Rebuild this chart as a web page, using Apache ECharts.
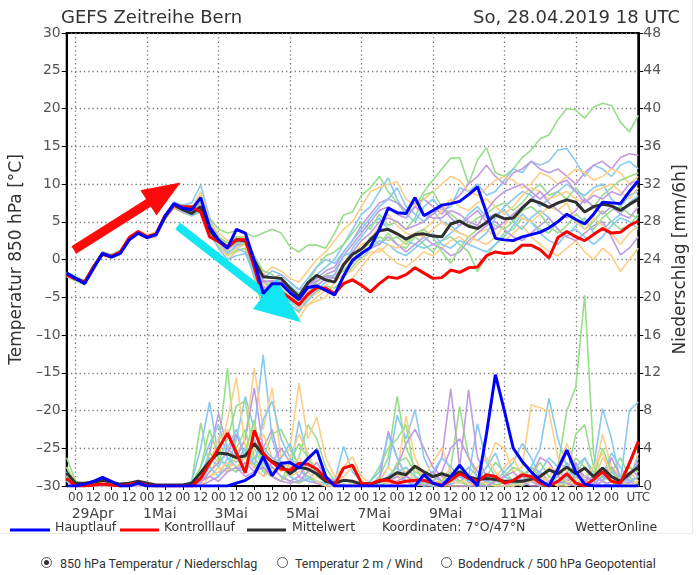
<!DOCTYPE html>
<html><head><meta charset="utf-8">
<script src="https://cdn.jsdelivr.net/npm/echarts/dist/echarts.min.js"></script>
<style>
html,body{margin:0;padding:0;background:#fff;width:697px;height:575px;overflow:hidden}
#wrap{position:absolute;left:0;top:0;width:692px;height:533px;border-right:1px solid #ececec;border-bottom:1px solid #ececec}
#chart{position:absolute;left:0;top:0;width:697px;height:540px}
#radios{position:absolute;left:0;top:553px;width:697px;height:22px;font-family:Roboto,"Noto Sans",sans-serif;font-size:12.5px;color:#333}
.it{position:absolute;top:3px;white-space:nowrap}
.rb{position:absolute;top:0;width:11px;height:11px;border:1px solid #555;border-radius:50%;box-sizing:border-box}
.rb.on::after{content:"";position:absolute;left:2px;top:2px;width:5px;height:5px;border-radius:50%;background:#333}
</style></head><body>
<div id="wrap"></div>
<div id="chart"></div>
<div id="radios">
 <div class="rb on" style="left:41px;top:4px"></div><div class="it" style="left:60px">850 hPa Temperatur / Niederschlag</div>
 <div class="rb" style="left:277px;top:4px"></div><div class="it" style="left:295px">Temperatur 2 m / Wind</div>
 <div class="rb" style="left:441px;top:4px"></div><div class="it" style="left:458px">Bodendruck / 500 hPa Geopotential</div>
</div>
<script>
// ---- time axis: GEFS run 28.04.2019 18 UTC, 6-hourly, 65 steps ----
const runStartUTC = Date.UTC(2019, 3, 28, 18);
const stepHours = 6;
const nSteps = 65;
const dateLabels = ['29Apr', '1Mai', '3Mai', '5Mai', '7Mai', '9Mai', '11Mai'];
const dateLabelIndex = [1, 9, 17, 25, 33, 41, 49];
const tempTicks = { min: -30, max: 30, interval: 5 };
const precTicks = { min: 0, max: 48, interval: 4 };

// ---- 850 hPa temperature [°C] ----
const hauptlaufT = [-1.8,-2.5,-3.2,-1.2,0.8, 0.3,0.8,2.6,3.5,2.9, 3.3,5.7,7.4,6.8,6.6, 8.2,4.3,2.6,1.5,4.0, 3.5,-0.2,-4.5,-3.2,-3.2, -4.4,-5.3,-3.7,-3.5,-4.1, -4.7,-2.2,-0.1,0.8,1.6, 4.0,6.8,6.2,6.1,8.2, 5.8,6.5,7.2,7.4,7.7, 8.6,9.6,6.2,2.8,2.6, 2.5,3.0,3.3,3.6,4.2, 5.0,6.0,5.3,4.7,6.0, 7.6,7.5,7.4,9.0,10.4];
const kontrollT = [-2.0,-2.6,-3.0,-1.0,0.7, 0.4,1.0,2.9,3.7,3.0, 3.4,5.8,7.2,7.0,7.0, 6.3,3.0,2.4,1.7,2.6, 2.6,-1.0,-5.1,-4.5,-4.3, -5.1,-6.0,-4.6,-3.7,-3.8, -4.5,-3.2,-2.7,-3.4,-4.3, -3.2,-2.3,-2.5,-2.0,-1.1, -1.8,-2.5,-2.4,-1.4,-1.7, -1.1,-1.0,0.5,1.0,0.8, 0.9,1.9,1.9,1.3,0.2, 2.9,3.7,3.0,2.5,3.3, 4.1,3.5,3.6,4.5,5.1];
const mittelT = [-2.0,-2.5,-3.0,-1.0,0.8, 0.4,0.9,2.7,3.5,3.0, 3.3,5.6,7.2,6.6,6.1, 7.0,3.9,2.4,1.6,2.6, 2.5,-0.1,-2.3,-2.4,-2.5, -3.8,-4.9,-3.1,-2.1,-2.7, -3.0,-0.7,0.7,1.4,2.6, 3.8,4.0,3.4,2.7,3.3, 3.4,3.1,3.0,4.7,5.1, 4.4,4.1,4.9,5.9,5.4, 5.5,6.8,7.9,7.5,6.9, 7.5,7.9,7.6,6.3,7.0, 7.3,7.1,6.5,7.3,8.0];
// ensemble members (temperature)
const tG1 = [-1.7,-2.2,-2.8,-0.8,1.0, 0.7,1.2,2.9,3.8,3.2, 3.6,5.8,7.0,6.2,5.8, 6.5,5.5,4.0,3.5,3.8, 3.5,3.0,3.5,4.0,3.5, 1.7,1.0,1.9,1.9,1.5, 3.5,5.9,6.3,8.5,9.5, 11.0,9.0,7.5,6.0,7.0, 9.0,10.5,12.0,13.4,13.5, 10.0,13.2,14.8,11.5,11.0, 12.0,13.5,14.5,16.0,16.5, 18.5,20.0,19.8,18.7,20.2, 20.7,20.4,18.2,16.9,19.1];
const tG2 = [-2.3,-2.8,-3.3,-1.2,0.6, 0.2,0.8,2.5,3.4,2.8, 3.1,5.4,7.0,6.4,6.3, 6.8,3.2,1.8,0.5,1.2, 1.5,-2.5,-6.5,-4.0,-5.5, -6.0,-7.0,-5.0,-4.2,-3.5, -3.8,-2.5,-1.0,0.5,3.0, 2.0,3.5,2.0,1.5,3.0, 2.0,1.0,2.5,3.0,2.0, 1.0,-1.6,0.5,2.0,3.5, 4.0,5.5,5.0,4.0,3.5, 5.0,6.0,5.5,4.0,5.0, 6.5,5.0,4.0,4.5,6.0];
const tG3 = [-1.9,-2.4,-2.9,-0.9,0.9, 0.5,1.0,2.8,3.6,3.1, 3.4,5.7,7.5,6.9,6.3, 7.4,4.5,3.0,2.2,3.0, 2.8,0.5,-1.5,-2.0,-3.0, -4.5,-5.5,-3.0,-1.0,0.5, 1.0,2.0,3.5,5.0,4.0, 6.0,4.5,5.0,4.0,5.5, 8.5,9.0,7.0,6.0,5.0, 4.5,5.5,6.0,7.0,7.5, 6.5,7.5,9.0,10.0,8.5, 9.0,8.0,9.5,8.0,7.0, 8.5,9.5,10.5,11.0,11.5];
const tG4 = [-2.1,-2.6,-3.1,-1.1,0.7, 0.3,0.9,2.6,3.4,2.9, 3.2,5.5,7.1,6.5,5.9, 6.6,4.0,2.8,1.9,2.2, 2.0,-1.0,-3.0,-3.5,-3.8, -5.0,-6.0,-4.5,-3.0,-2.0, -2.5,-1.5,0.0,1.5,2.0, 3.0,2.5,3.0,2.0,3.5, 4.0,3.0,1.0,-0.5,1.5, 3.0,4.0,5.0,4.5,4.0, 5.0,6.5,7.0,6.0,4.5, 3.5,4.5,6.0,5.0,4.0, 5.5,6.5,7.0,6.0,5.5];
const tB1 = [-1.8,-2.3,-2.9,-0.9,1.0, 0.6,1.1,2.9,3.7,3.2, 3.5,5.9,7.6,7.2,7.5, 9.9,5.5,3.0,0.5,2.0, 2.5,0.0,-4.0,-3.0,-2.5, -3.5,-4.5,-3.0,-2.0,-1.0, 0.0,2.0,4.0,6.0,7.0, 9.0,10.8,8.0,6.0,5.0, 7.0,8.0,6.5,7.0,9.5, 9.0,10.0,8.5,9.0,10.5, 12.0,11.5,13.0,12.5,13.0, 14.5,14.7,13.0,11.0,12.5, 12.0,11.0,12.5,13.0,12.0];
const tB2 = [-2.2,-2.7,-3.2,-1.1,0.6, 0.3,0.8,2.6,3.4,3.0, 3.2,5.5,7.0,6.3,6.0, 7.5,4.2,2.0,1.0,1.5, 1.0,-1.5,-4.5,-4.0,-4.5, -5.5,-6.5,-4.5,-3.5,-2.5, -3.0,-1.0,1.5,3.0,4.5, 5.5,4.0,3.5,2.5,2.0, 1.5,2.0,2.5,3.5,4.5, 6.0,7.0,5.5,6.0,6.5, 5.0,4.0,5.5,6.5,5.5, 4.0,3.0,4.5,5.5,3.5, 4.0,5.0,6.0,7.5,8.5];
const tB3 = [-2.0,-2.4,-2.9,-1.0,0.9, 0.5,1.0,2.8,3.6,3.1, 3.4,5.7,7.3,6.8,6.4, 8.0,4.8,2.5,0.8,1.8, 2.0,-0.5,-2.5,-1.5,-2.0, -3.0,-4.0,-2.5,-1.0,0.0, -0.5,1.0,2.5,4.0,5.5, 7.0,8.0,9.5,7.0,6.0, 5.0,6.5,5.0,4.5,3.5, 3.0,2.5,3.5,5.5,7.0, 8.0,9.0,8.5,7.0,8.0, 9.0,10.0,9.0,8.5,9.5, 10.0,8.0,7.0,8.5,9.0];
const tB4 = [-2.1,-2.6,-3.0,-1.0,0.7, 0.4,0.9,2.6,3.5,2.9, 3.3,5.5,7.0,6.4,5.8, 6.3,3.5,1.5,0.0,0.5, 0.8,-2.0,-5.0,-5.5,-5.0, -6.0,-6.8,-5.5,-4.0,-3.0, -2.0,0.5,1.0,0.0,1.5, 2.5,2.0,1.0,0.5,1.5, 2.5,3.5,2.0,1.5,2.5, 2.0,1.5,1.0,2.0,3.0, 4.5,6.0,5.0,3.5,2.5, 2.0,3.5,4.0,3.0,2.0, 3.0,4.5,5.5,5.0,4.0];
const tO1 = [-2.2,-2.7,-3.1,-1.2,0.5, 0.2,0.7,2.5,3.3,2.8, 3.0,5.3,6.8,6.2,6.2, 8.5,4.5,1.5,0.0,1.0, 1.5,-1.5,-5.5,-5.0,-6.0, -6.5,-7.8,-6.0,-5.0,-4.0, -4.5,-3.0,-2.5,-1.0,0.5, 1.5,0.5,-0.5,-1.0,0.0, 1.0,0.5,1.5,2.5,3.0, 2.0,3.5,4.0,3.0,2.5, 3.5,4.5,3.0,2.0,1.0, 0.5,1.5,2.5,1.0,0.0, 1.5,0.5,-1.6,0.0,1.5];
const tO2 = [-1.9,-2.4,-2.9,-0.9,0.9, 0.6,1.1,2.9,3.8,3.3, 3.6,5.8,7.4,7.0,6.8, 9.0,5.0,3.5,2.5,3.0, 3.0,0.5,-2.0,-1.0,-1.5, -2.5,-3.0,-1.5,0.0,1.0, 2.5,4.0,5.0,7.0,9.0, 9.5,10.0,10.3,8.0,7.0, 8.0,9.0,10.0,11.0,10.5, 9.0,8.5,9.5,10.5,11.0, 10.5,9.5,10.0,11.5,11.0, 10.0,11.0,12.0,11.5,10.5, 11.0,12.0,11.5,10.0,11.0];
const tO3 = [-2.0,-2.5,-3.0,-1.0,0.8, 0.4,0.9,2.7,3.5,3.0, 3.3,5.6,7.1,6.6,6.5, 8.2,4.2,2.5,1.2,2.2, 2.2,-0.8,-3.5,-3.0,-3.5, -4.5,-6.0,-5.0,-4.5,-3.5, -2.0,-1.0,0.5,2.0,2.5, 4.5,6.0,4.5,3.5,3.0, 4.0,5.0,6.5,8.0,7.0, 6.5,7.5,8.0,7.0,6.0, 7.0,8.5,9.5,9.0,8.0, 8.5,9.0,8.0,7.5,9.0, 9.5,10.0,9.0,8.0,9.5];
const tO4 = [-2.1,-2.6,-3.1,-1.1,0.7, 0.3,0.8,2.6,3.4,2.9, 3.2,5.5,7.0,6.5,6.1, 7.2,4.0,2.0,0.5,1.5, 2.0,-1.2,-4.0,-3.5,-4.5, -5.0,-6.5,-6.0,-5.5,-5.0, -3.0,-2.0,-1.5,0.0,1.0, 1.0,2.0,1.5,2.5,3.5, 3.0,4.0,5.0,4.0,3.5, 3.0,2.5,2.0,3.0,4.5, 6.0,5.5,5.0,6.0,7.0, 6.5,7.5,5.0,4.0,5.5, 4.5,3.5,2.0,3.5,4.5];
const tP1 = [-1.9,-2.4,-3.0,-0.9,0.9, 0.6,1.1,2.8,3.7,3.1, 3.5,5.8,7.3,6.8,6.3, 7.6,4.6,2.8,1.8,2.8, 2.6,0.2,-2.0,-2.5,-2.0, -3.0,-4.0,-3.5,-2.5,-1.5, -1.0,1.0,2.5,4.5,6.0, 7.5,8.0,7.5,6.5,7.5, 8.0,7.0,6.0,7.5,8.5, 10.0,11.0,12.5,11.0,10.0, 11.5,12.0,13.0,12.0,11.5, 12.0,11.0,10.0,11.5,12.5, 13.0,12.0,13.5,14.0,13.8];
const tP2 = [-2.2,-2.6,-3.1,-1.1,0.6, 0.3,0.8,2.6,3.4,2.9, 3.1,5.4,6.9,6.3,5.9, 6.8,3.8,2.2,1.4,2.0, 2.0,-1.0,-3.5,-4.5,-4.0, -5.0,-6.2,-5.0,-3.5,-2.5, -2.0,-1.5,-0.5,1.0,1.5, 2.0,3.0,2.0,1.0,2.0, 3.0,2.0,1.5,0.5,1.0, 2.5,3.5,4.5,5.0,4.0, 3.0,2.5,3.5,4.5,5.5, 4.0,3.0,2.5,3.5,4.5, 5.0,3.0,0.6,1.5,3.0];
const tP3 = [-2.0,-2.5,-2.9,-1.0,0.8, 0.5,1.0,2.7,3.5,3.0, 3.3,5.6,7.2,6.7,6.2, 7.3,4.4,2.6,1.5,2.5, 2.4,-0.3,-2.8,-3.0,-3.2, -4.2,-5.2,-4.0,-3.0,-2.0, -1.5,0.5,2.0,3.5,5.0, 6.5,7.0,6.0,5.5,7.0, 6.0,5.5,5.5,6.5,6.0, 5.0,4.5,6.5,8.0,9.0, 9.5,10.0,9.0,8.0,9.0, 10.0,10.5,9.0,7.5,8.5, 8.0,9.0,8.5,10.0,10.5];
const tP4 = [-2.1,-2.5,-3.0,-1.0,0.8, 0.4,0.9,2.7,3.5,3.0, 3.3,5.6,7.1,6.6,6.0, 7.0,3.6,2.2,1.3,2.4, 2.3,-0.5,-3.0,-2.8,-3.0, -4.0,-5.0,-3.8,-2.8,-2.2, -2.5,-0.5,1.0,2.5,3.5, 5.0,5.5,5.0,4.0,4.5, 5.0,6.0,7.0,5.5,4.5, 5.5,6.5,5.0,4.0,5.0, 6.0,7.0,8.0,9.0,7.5, 6.5,5.5,6.5,8.0,7.0, 6.0,7.0,6.0,5.5,7.0];

// ---- precipitation [mm/6h] ----
const hauptlaufP = [0,0,0.2,0.5,0.9, 0.5,0,0,0.3,0, 0,0,0,0,0, 0,0,0,0,0.3, 0.6,1.2,3.1,1.1,2.4, 2.5,1.9,2.9,3.8,1.0, 0,0,0,0,0, 0,0,0,0,0, 1.2,0.3,0,1.0,2.2, 1.0,0,5.5,11.8,8.0, 4.0,2.6,1.5,0.6,0, 1.8,3.8,1.5,0.2,0, 0,0,0,0,0];
const kontrollP = [0.8,0,0,0.1,0.2, 0.1,0,0.2,0.3,0.1, 0,0,0,0,0, 0.8,2.4,4.0,5.6,3.5, 1.4,5.9,3.5,2.5,1.8, 1.7,2.4,2.3,1.8,0.8, 0.1,1.9,2.2,0.3,0.2, 0.6,0.6,0.3,0.5,0.6, 0.6,0.3,0.1,0.6,1.3, 0.8,0.5,1.2,1.0,0.3, 0.6,1.2,1.0,0.3,0, 0.5,1.3,0.3,0,0.7, 1.5,0.5,0.3,2.4,4.7];
const mittelP = [1.4,0.3,0.3,0.4,0.6, 0.4,0.2,0.3,0.5,0.3, 0.1,0.1,0.1,0.1,0.3, 1.4,2.6,3.5,3.4,3.0, 3.2,4.5,3.3,2.6,2.2, 1.3,2.0,1.8,1.3,0.5, 0.3,0.6,0.5,0.2,0.2, 0.5,0.8,1.4,1.2,2.1, 1.5,1.0,1.3,1.0,1.5, 1.0,0.7,0.8,0.7,0.5, 0.5,0.5,0.7,1.0,1.7, 1.3,2.0,1.3,1.9,1.0, 1.9,1.0,0.5,1.3,2.0];
// ensemble members (precipitation)
const pG1 = [3.0,0.5,0.2,0.5,0.3, 0,0,0,0.2,0, 0,0,0,0,0.5, 6.7,2.0,4.0,12.5,3.0, 1.5,4.0,2.0,1.0,0.5, 1.5,3.0,6.5,5.0,2.0, 0.5,0,0.3,0,0, 1.0,3.0,9.5,4.0,2.0, 0.5,1.0,0.5,2.0,8.4, 3.0,1.0,0.5,0.2,0, 0.5,1.5,0.5,0,0.3, 2.0,8.0,10.5,20.2,3.3, 1.0,0.5,0,0.5,1.0];
const pG2 = [1.5,0.3,0,0,0, 0,0.2,0,0,0, 0,0,0,0,0, 1.0,3.5,2.5,5.0,8.5, 9.0,3.0,1.5,2.0,1.0, 0.5,0.3,0.8,0.5,0, 0,0.2,0,0,0.5, 2.0,4.0,5.0,6.5,1.0, 0,0.5,1.5,0.8,0.5, 0,0.3,1.0,2.5,1.5, 0.5,1.0,2.0,1.0,0.5, 0,1.0,5.5,6.5,2.0, 0.5,1.5,3.0,1.0,0];
const pG3 = [2.0,0,0,0.3,0, 0,0,0.3,0,0, 0,0,0,0,0, 0.5,1.0,2.0,1.5,4.0, 6.0,2.0,3.0,5.5,6.0, 4.0,2.0,1.0,0.5,0.2, 0,0,0,0.3,0, 0.5,1.0,1.5,0.5,0, 0.2,0,0.5,1.5,0.5, 0,0,0.3,0.5,1.0, 2.0,1.5,0.5,0,0, 0.5,0.5,3.0,2.0,1.0, 4.0,1.5,0.5,0,0.3];
const pG4 = [1.0,0.2,0,0,0, 0,0,0,0,0, 0,0,0,0,0.3, 2.0,6.0,3.0,2.0,1.5, 3.5,7.0,1.5,1.0,0.5, 2.5,4.5,3.0,1.0,0.5, 0.2,0,0,0,0, 0,0.5,2.5,3.0,1.5, 1.0,0.5,0,0.5,2.0, 1.0,0.5,0,0,0.5, 0.3,0,1.0,2.5,1.0, 0.5,0,1.0,3.0,1.5, 0.5,0,1.0,2.0,1.5];
const pB1 = [1.2,0,0,0.2,0, 0,0,0,0,0, 0,0,0,0,0.5, 4.0,8.9,3.0,2.0,5.0, 9.5,6.0,13.9,5.0,2.0, 1.5,6.9,3.0,1.5,0.5, 0.5,4.2,1.5,0.5,0, 0.5,2.0,7.5,5.0,8.1, 3.0,1.0,0.5,0.2,0.5, 1.0,6.6,2.5,1.0,0.5, 0.3,0.5,2.0,4.0,9.3, 5.0,2.0,1.0,0.5,2.0, 8.2,5.0,0.5,8.0,8.9];
const pB2 = [0.8,0.2,0,0,0, 0,0,0,0,0, 0,0,0,0,0, 2.0,4.5,6.5,3.0,2.5, 4.0,2.0,7.0,9.0,5.0, 3.0,2.0,1.0,0.5,0.3, 0,0,0,0,0.5, 1.5,5.4,3.0,1.0,0.5, 0,0,0.3,1.0,2.0, 0.5,0,0,0.5,1.5, 2.5,4.5,3.0,1.0,0.5, 1.0,2.5,0.5,0,0.5, 1.0,3.5,2.0,0.5,0];
const pB3 = [1.5,0,0,0,0, 0,0,0,0.2,0, 0,0,0,0,0, 1.5,3.0,2.0,4.0,6.0, 3.0,5.0,2.5,1.0,3.0, 4.5,2.0,0.5,0.5,0.2, 0,0,0,0,0, 0.5,1.0,2.0,0.5,0, 0.5,1.5,3.0,2.0,1.0, 0.5,0.5,2.0,3.5,1.0, 0.5,0,0.5,1.5,3.0, 2.0,0.5,0,1.0,0.5, 2.0,1.0,0,1.0,3.0];
const pB4 = [0.5,0,0,0,0, 0,0,0,0,0, 0,0,0,0,0, 0.5,2.0,1.0,3.0,2.0, 1.5,3.0,4.0,3.0,2.5, 1.0,0.5,0.8,1.5,0.5, 0.3,0,0,0,0, 0.3,1.0,1.5,2.0,1.0, 0.5,0,0,0.5,1.0, 2.0,1.0,0.5,0,0, 0,0.5,1.0,0.5,0, 0.5,1.0,2.0,3.0,1.0, 0.5,1.5,1.0,0.5,1.0];
const pO1 = [2.0,0.3,0,0,0.2, 0,0,0,0,0, 0,0,0,0,0, 1.0,2.5,5.0,6.0,3.5, 5.0,12.5,6.0,10.4,3.0, 4.0,10.9,5.0,7.3,3.0, 1.0,2.0,3.1,1.0,0.3, 0,0.5,1.5,7.4,3.0, 1.0,0.5,0.5,2.0,1.0, 0.5,1.0,2.0,4.6,4.0, 1.5,2.0,8.6,8.3,7.9, 3.0,1.5,0.5,2.0,1.0, 5.5,2.0,1.0,0.5,3.5];
const pO2 = [1.0,0,0,0.2,0, 0,0,0,0,0, 0,0,0,0,0.3, 0.5,1.5,3.0,7.0,11.5, 4.0,6.5,3.0,2.5,1.5, 3.0,5.5,3.5,1.5,0.5, 0.3,1.0,2.0,0.5,0, 0.5,0.3,1.0,2.0,0.5, 1.0,2.5,4.0,1.5,0.5, 0.3,0,0.5,1.0,2.0, 3.0,1.0,0.5,0.3,1.0, 2.0,4.5,2.0,1.0,0.5, 3.0,1.5,0.5,2.0,1.5];
const pO3 = [0.5,0,0,0,0, 0,0.2,0,0,0, 0,0,0,0,0, 0,1.0,2.0,1.5,3.0, 2.0,4.0,5.5,3.0,2.0, 1.0,1.5,2.0,1.0,0.5, 0,0,0.3,0,0, 0.5,2.0,1.0,0.5,1.0, 0.5,0,0,0.5,0.3, 1.0,2.0,3.0,1.5,0.5, 0,0.5,1.0,0.5,2.0, 1.5,0.5,0,0.5,1.0, 0.5,0,1.0,1.5,0.5];
const pO4 = [1.0,0,0,0,0, 0,0,0,0,0, 0,0,0,0,0, 0.5,1.0,1.5,2.5,2.0, 3.0,2.0,1.0,1.5,2.5, 2.0,3.0,1.5,0.5,0, 0,0,0,0,0.2, 0.5,0.3,0.5,1.5,2.0, 1.0,0.3,0,0,0, 0,0.5,0.3,0,0, 0,0.3,0.5,1.0,0.5, 0,0,0.3,1.0,2.0, 3.5,1.0,0.5,0,0.5];
const pP1 = [1.0,0,0,0,0, 0,0,0,0,0, 0,0,0,0,0, 1.0,3.5,7.7,4.0,3.0, 5.0,10.4,4.0,6.0,2.0, 1.5,2.0,1.0,0.5,0.2, 0,0,0,0,0, 0.5,5.8,3.0,1.0,0.5, 0.3,1.0,3.0,10.3,2.0, 10.2,3.0,1.0,0.5,0.3, 0.5,1.0,2.0,1.5,0.5, 0.3,0.5,1.0,0.5,0.2, 1.0,2.0,0.5,0.3,1.0];
const pP2 = [0.8,0,0,0,0, 0,0,0,0,0, 0,0,0,0,0, 0.3,1.5,2.5,3.5,5.5, 3.0,2.0,1.0,2.5,4.0, 2.5,1.0,0.5,0.3,0, 0,0,0,0,0, 0.3,1.0,2.0,4.5,6.0, 4.0,2.0,1.0,0.5,1.0, 0.5,0,0.5,1.0,0.5, 0,0.5,1.0,3.0,2.5, 1.0,0.5,2.5,0.5,0, 0.5,3.0,1.0,0.5,0];
const pP3 = [0.5,0,0,0,0, 0,0,0,0,0, 0,0,0,0,0, 0,0.5,1.0,2.0,1.5, 2.5,1.5,3.0,2.0,1.0, 0.5,1.0,2.5,1.5,0.5, 0,0,0,0,0, 0,0.5,1.0,0.5,0.3, 0,0.5,1.5,4.0,5.0, 3.0,1.5,0.5,0,0, 0.5,1.0,0.5,0,0.5, 1.5,3.5,2.0,1.0,0.5, 0,0.5,1.0,2.0,1.0];
const pP4 = [0.6,0,0,0,0, 0,0,0,0,0, 0,0,0,0,0, 0.5,1.0,0.5,1.5,2.0, 1.0,1.5,2.0,1.0,0.5, 0.3,0.5,1.5,2.5,1.0, 0.5,0,0,0,0, 0,0,0.5,1.0,0.5, 1.0,1.5,0.5,0,0, 0,0,0,0.5,1.0, 1.5,0.5,0,0,0.5, 0.5,0.3,0,0.5,1.0, 0.5,0,0.3,1.0,2.5];

// ---- annotation arrows, in data space [step index, °C] ----
const arrowRed = { from: [0.8, 1.26], to: [10.95, 8.85] };
const arrowCyan = { from: [12.43, 4.44], to: [24.2, -6.45] };

// ---- styling ----
const COL = { green: '#98de8a', blue: '#88c9ef', orange: '#fccf88', purple: '#c09be3',
  haupt: '#0000ff', kontroll: '#ff0000', mittel: '#303030' };
const FONT = '"DejaVu Sans", sans-serif';

const categories = Array.from({ length: nSteps }, (_, i) => {
  const d = new Date(runStartUTC + i * stepHours * 3600e3);
  return d.getUTCDate() + '.' + (d.getUTCMonth() + 1) + '. ' + String(d.getUTCHours()).padStart(2, '0');
});
const isMainTick = i => i % 2 === 1 && i <= 61;

const ensT = [[tG1, COL.green], [tB1, COL.blue], [tO1, COL.orange], [tP1, COL.purple],
  [tG2, COL.green], [tB2, COL.blue], [tO2, COL.orange], [tP2, COL.purple],
  [tG3, COL.green], [tB3, COL.blue], [tO3, COL.orange], [tP3, COL.purple],
  [tG4, COL.green], [tB4, COL.blue], [tO4, COL.orange], [tP4, COL.purple]];
const ensP = [[pG1, COL.green], [pB1, COL.blue], [pO1, COL.orange], [pP1, COL.purple],
  [pG2, COL.green], [pB2, COL.blue], [pO2, COL.orange], [pP2, COL.purple],
  [pG3, COL.green], [pB3, COL.blue], [pO3, COL.orange], [pP3, COL.purple],
  [pG4, COL.green], [pB4, COL.blue], [pO4, COL.orange], [pP4, COL.purple]];

function lineSeries(arr, yIdx, color, width, z) {
  return { type: 'line', xAxisIndex: 0, yAxisIndex: yIdx, data: arr.map((v, i) => [i, v]),
    symbol: 'none', showSymbol: false, silent: true, animation: false, z: z,
    lineStyle: { color: color, width: width }, itemStyle: { color: color } };
}

const series = [];
ensP.forEach(([a, c]) => series.push(lineSeries(a, 1, c, 1.6, 2)));
ensT.forEach(([a, c]) => series.push(lineSeries(a, 0, c, 1.6, 2)));
series.push(lineSeries(mittelP, 1, COL.mittel, 3, 3));
series.push(lineSeries(kontrollP, 1, COL.kontroll, 3, 4));
series.push(lineSeries(hauptlaufP, 1, COL.haupt, 3, 5));
series.push(lineSeries(mittelT, 0, COL.mittel, 3, 3));
series.push(lineSeries(kontrollT, 0, COL.kontroll, 3, 4));
series.push(lineSeries(hauptlaufT, 0, COL.haupt, 3, 5));
series.push({ type: 'line', xAxisIndex: 0, yAxisIndex: 0, data: [], z: 10, silent: true, animation: false,
  markLine: { silent: true, animation: false, symbol: ['none', 'triangle'], symbolSize: [30, 38],
    label: { show: false },
    data: [
      [{ coord: arrowRed.from, lineStyle: { color: '#ff0a0a', width: 9, type: 'solid' } }, { coord: arrowRed.to, symbolSize: [30, 38] }],
      [{ coord: arrowCyan.from, lineStyle: { color: '#12e6f2', width: 8, type: 'solid' } }, { coord: arrowCyan.to, symbolSize: [38, 46] }]
    ] } });

const labelFmt = v => (v < 0 ? '\u2013' + Math.abs(v) : String(v));

const option = {
  animation: false,
  textStyle: { fontFamily: FONT },
  grid: { left: 61, right: 54, top: 33, bottom: 54, show: true, borderColor: '#000', borderWidth: 2, backgroundColor: '#fff' },
  title: [
    { text: 'GEFS Zeitreihe Bern', left: 56, top: 4, textStyle: { fontFamily: FONT, fontSize: 18, fontWeight: 'normal', color: '#333' } },
    { text: 'So, 28.04.2019 18 UTC', right: 12, top: 4, textStyle: { fontFamily: FONT, fontSize: 18, fontWeight: 'normal', color: '#333' } }
  ],
  xAxis: [
    { type: 'value', min: 0, max: nSteps - 1, show: false },
    { type: 'category', data: categories, boundaryGap: false, position: 'bottom',
      axisLine: { show: true, lineStyle: { color: '#000', width: 2 } },
      axisTick: { show: true, interval: i => isMainTick(i), length: 4, lineStyle: { color: '#000', width: 1 } },
      axisLabel: { interval: i => isMainTick(i) || i === nSteps - 1, margin: 6, fontSize: 12, color: '#444', fontFamily: FONT,
        formatter: (v, i) => (i === nSteps - 1 ? 'UTC' : v.slice(-2)) },
      splitLine: { show: true, interval: i => i % 8 === 1, lineStyle: { color: '#777', width: 1.3, type: [1.3, 3] } } }
  ],
  yAxis: [
    { type: 'value', position: 'left', min: tempTicks.min, max: tempTicks.max, interval: tempTicks.interval,
      name: 'Temperatur 850 hPa [°C]', nameLocation: 'middle', nameRotate: 90, nameGap: 36,
      nameTextStyle: { fontSize: 17, color: '#333', fontFamily: FONT },
      axisLine: { show: true, lineStyle: { color: '#000', width: 2 } },
      axisTick: { show: true, length: 5, lineStyle: { color: '#000' } },
      axisLabel: { fontSize: 14, color: '#555', margin: 6, formatter: labelFmt, fontFamily: FONT },
      splitLine: { show: true, lineStyle: { color: '#777', width: 1.3, type: [1.3, 3] } } },
    { type: 'value', position: 'right', min: precTicks.min, max: precTicks.max, interval: precTicks.interval,
      name: 'Niederschlag [mm/6h]', nameLocation: 'middle', nameRotate: 90, nameGap: 29,
      nameTextStyle: { fontSize: 17, color: '#333', fontFamily: FONT },
      axisLine: { show: true, lineStyle: { color: '#000', width: 2 } },
      axisTick: { show: true, length: 5, lineStyle: { color: '#000' } },
      axisLabel: { fontSize: 14, color: '#555', margin: 5, fontFamily: FONT },
      splitLine: { show: false } }
  ],
  series: series,
  graphic: [
    { type: 'line', shape: { x1: 10, y1: 530, x2: 50, y2: 530 }, style: { stroke: COL.haupt, lineWidth: 3 } },
    { type: 'text', left: 55, top: 521, style: { text: 'Hauptlauf', fontSize: 12.5, fill: '#333', fontFamily: FONT } },
    { type: 'line', shape: { x1: 120, y1: 530, x2: 159, y2: 530 }, style: { stroke: COL.kontroll, lineWidth: 3 } },
    { type: 'text', left: 164, top: 521, style: { text: 'Kontrolllauf', fontSize: 12.5, fill: '#333', fontFamily: FONT } },
    { type: 'line', shape: { x1: 247, y1: 530, x2: 286, y2: 530 }, style: { stroke: COL.mittel, lineWidth: 3 } },
    { type: 'text', left: 292, top: 521, style: { text: 'Mittelwert', fontSize: 12.5, fill: '#333', fontFamily: FONT } },
    { type: 'text', left: 382, top: 521, style: { text: 'Koordinaten: 7°O/47°N', fontSize: 12.5, fill: '#333', fontFamily: FONT } },
    { type: 'text', left: 575, top: 521, style: { text: 'WetterOnline', fontSize: 12.5, fill: '#333', fontFamily: FONT } }
  ]
};

const chart = echarts.init(document.getElementById('chart'), null, { renderer: 'canvas' });
chart.setOption(option);
// date labels under the 00/12 row, left-aligned at the 00 UTC tick of the day
const yBottom = chart.convertToPixel({ yAxisIndex: 0 }, tempTicks.min);
const extra = dateLabels.map((t, k) => ({
  type: 'text', x: chart.convertToPixel({ xAxisIndex: 0 }, dateLabelIndex[k]) - 4, y: yBottom + 21,
  style: { text: t, fontSize: 14, fill: '#444', fontFamily: FONT, textVerticalAlign: 'top' }
}));
chart.setOption({ graphic: option.graphic.concat(extra) });
</script>
</body></html>
